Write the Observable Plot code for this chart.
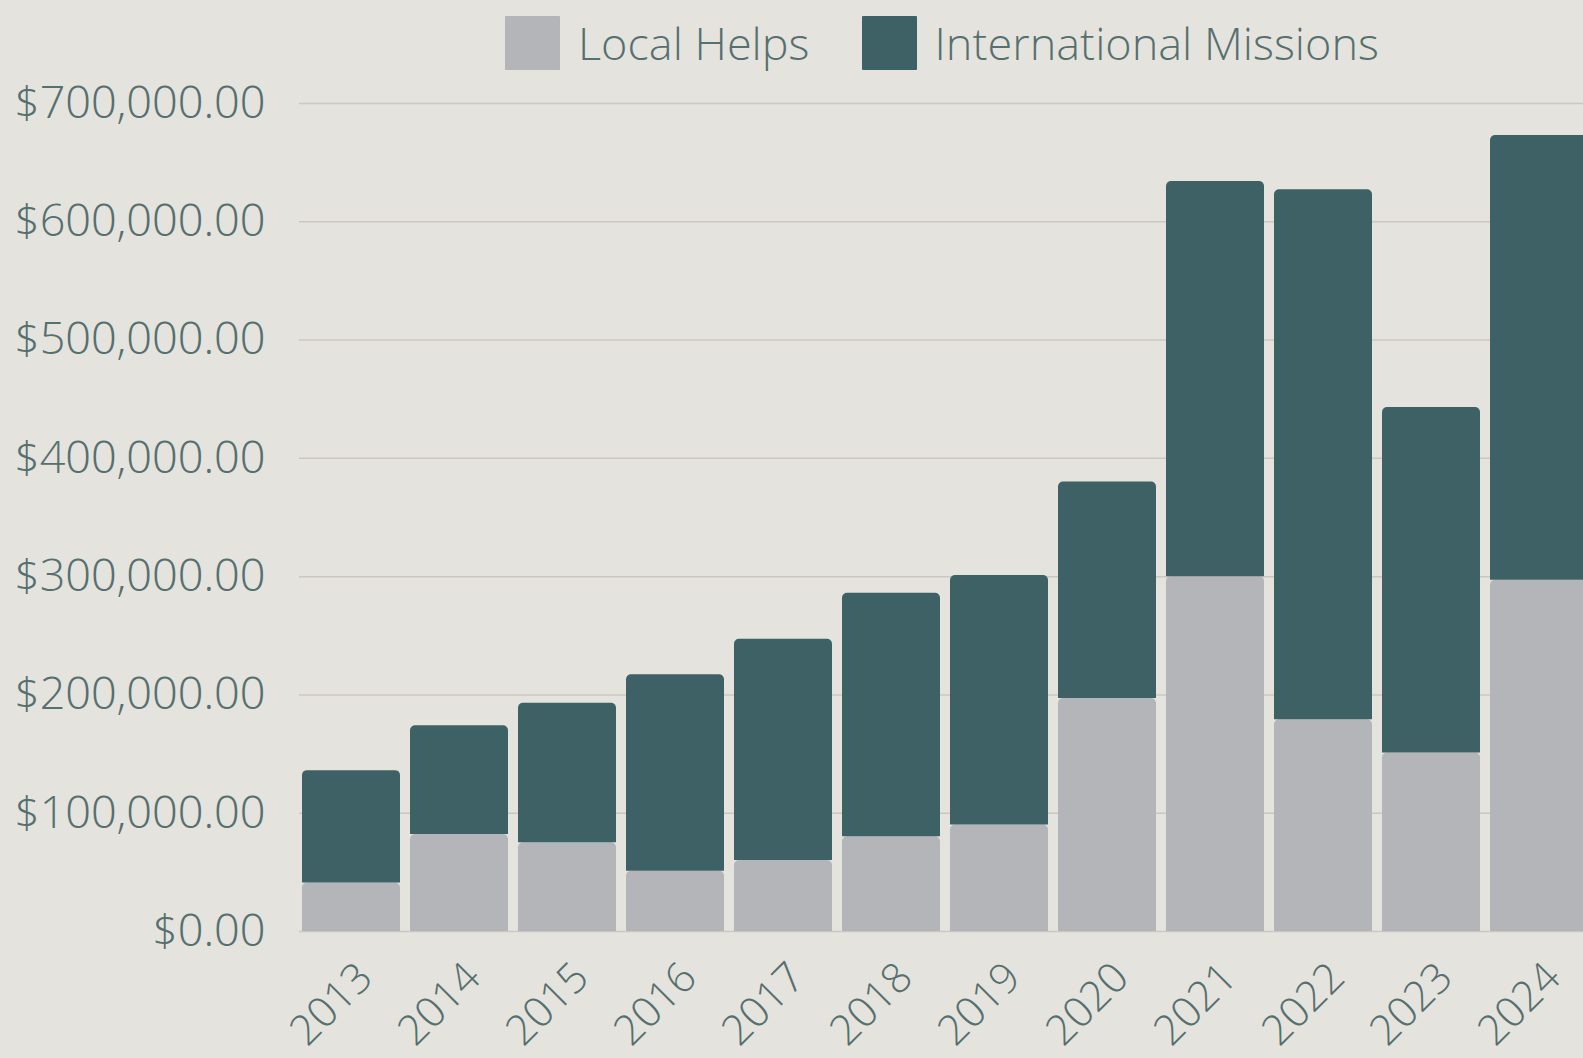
<!DOCTYPE html>
<html>
<head>
<meta charset="utf-8">
<script src="https://cdn.jsdelivr.net/npm/d3@7"></script>
<script src="https://cdn.jsdelivr.net/npm/@observablehq/plot@0.6"></script>
<style>
  html, body { margin: 0; padding: 0; background: #e5e3de; overflow: hidden; width: 1583px; height: 1058px; }
  body { font-family: "Open Sans Light", "Open Sans", sans-serif; }
  #legend { height: 84px; display: flex; align-items: flex-start; padding-left: 505px; box-sizing: border-box; }
  .item { display: flex; align-items: center; margin-top: 16px; margin-right: 52px; }
  .sw { width: 55px; height: 54px; margin-right: 18px; border-radius: 1px; }
  .lbl { font-size: 45px; font-weight: 300; color: #56706f; line-height: 50px; white-space: nowrap; }
  #chart svg { display: block; overflow: visible; max-width: none !important; }
</style>
</head>
<body>
<div id="legend"></div>
<div id="chart"></div>
<script>
const years = ["2013","2014","2015","2016","2017","2018","2019","2020","2021","2022","2023","2024"];
const localHelps = [41000, 82000, 75000, 51000, 60000, 80000, 90000, 197000, 300000, 179000, 151000, 297000];
const internationalMissions = [95000, 92000, 118000, 166000, 187000, 206000, 211000, 183000, 334000, 448000, 292000, 376000];
const seriesNames = ["Local Helps", "International Missions"];
const seriesColors = ["#b3b5b9", "#3e6166"];
const yTicks = [0, 100000, 200000, 300000, 400000, 500000, 600000, 700000];

const rows = [];
years.forEach((y, i) => {
  rows.push({year: y, series: seriesNames[0], value: localHelps[i]});
  rows.push({year: y, series: seriesNames[1], value: internationalMissions[i]});
});

// legend
const legend = document.getElementById("legend");
seriesNames.forEach((n, i) => {
  const it = document.createElement("div");
  it.className = "item";
  const sw = document.createElement("div");
  sw.className = "sw";
  sw.style.background = seriesColors[i];
  const lb = document.createElement("span");
  lb.className = "lbl";
  lb.textContent = n;
  it.appendChild(sw); it.appendChild(lb);
  legend.appendChild(it);
});

const textColor = "#56706f";
const chart = Plot.plot({
  width: 1591,
  height: 974,
  marginLeft: 299,
  marginRight: 0,
  marginTop: 19,
  marginBottom: 127,
  style: {background: "transparent", fontFamily: "'Open Sans Light', 'Open Sans', sans-serif", fontWeight: 300, color: textColor, overflow: "visible", maxWidth: "none"},
  x: {domain: years, paddingInner: 0.088, paddingOuter: 0, axis: null},
  y: {domain: [0, 700000], axis: null},
  color: {domain: seriesNames, range: seriesColors},
  marks: [
    Plot.gridY(yTicks, {stroke: "#cbc8c2", strokeOpacity: 1, strokeWidth: 1.5}),
    Plot.barY(rows, Plot.stackY({x: "year", y: "value", fill: "series", order: seriesNames, ry1: 5})),
    Plot.axisY(yTicks, {tickSize: 0, tickPadding: 34, fontSize: 45, fill: textColor, label: null, tickFormat: d3.format("$,.2f")}),
    Plot.axisX({tickSize: 0, tickPadding: 39, tickRotate: -45, fontSize: 42, fill: textColor, label: null, dx: 14})
  ]
});
document.getElementById("chart").appendChild(chart);
</script>
</body>
</html>
